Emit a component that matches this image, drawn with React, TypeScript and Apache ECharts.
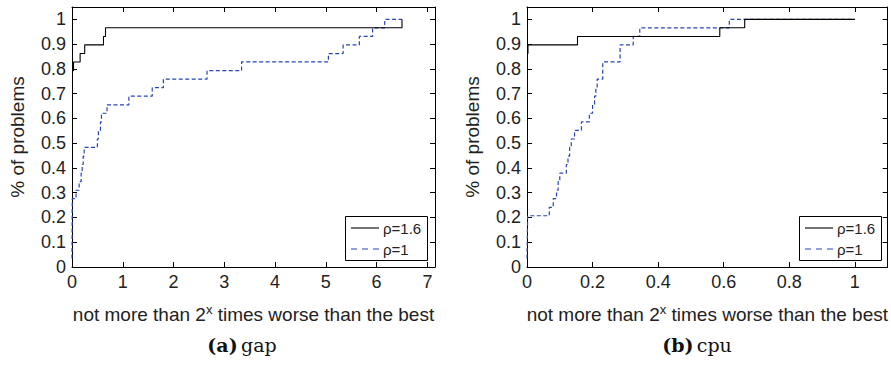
import React, { useEffect, useRef } from 'react';
import * as echarts from 'echarts';

// (a) gap — performance profile, step points (x = log2 ratio, y = fraction of problems)
const gapRho16X = [0, 0.03, 0.16, 0.25, 0.62, 0.66, 6.5];
const gapRho16Y = [0.793, 0.828, 0.862, 0.897, 0.931, 0.966, 1.0];
const gapRho1X = [0, 0.005, 0.08, 0.14, 0.18, 0.2, 0.22, 0.24, 0.5, 0.52, 0.56, 0.58, 0.69, 1.12, 1.58, 1.8, 2.66, 3.34, 5.05, 5.34, 5.66, 5.92, 6.16, 6.5];
const gapRho1Y = [0.034, 0.276, 0.31, 0.345, 0.379, 0.414, 0.448, 0.483, 0.517, 0.552, 0.586, 0.621, 0.655, 0.69, 0.724, 0.759, 0.793, 0.828, 0.862, 0.897, 0.931, 0.966, 1.0, 1.0];

// (b) cpu
const cpuRho16X = [0, 0.003, 0.154, 0.588, 0.664, 1.0];
const cpuRho16Y = [0.862, 0.897, 0.931, 0.966, 1.0, 1.0];
const cpuRho1X = [0, 0.002, 0.068, 0.08, 0.09, 0.095, 0.1, 0.12, 0.125, 0.13, 0.135, 0.145, 0.166, 0.19, 0.2, 0.206, 0.21, 0.214, 0.231, 0.284, 0.324, 0.344, 0.617, 1.0];
const cpuRho1Y = [0.034, 0.207, 0.241, 0.276, 0.31, 0.345, 0.379, 0.414, 0.448, 0.483, 0.517, 0.552, 0.586, 0.621, 0.655, 0.69, 0.724, 0.759, 0.828, 0.897, 0.931, 0.966, 1.0, 1.0];

const seriesNames = ['ρ=1.6', 'ρ=1'];
const captions = [['(a)', 'gap'], ['(b)', 'cpu']];
const xTitle = ['not more than 2', 'x', ' times worse than the best'];
const yTitle = '% of problems';

const zip = (xs: number[], ys: number[]) => xs.map((x, i) => [x, ys[i]]);

const FONT = '"Liberation Sans", Arial, Helvetica, sans-serif';
const SERIF = '"DejaVu Serif", "Liberation Serif", serif';
const BLUE = '#2a44b4';
const TXT = '#222';

export default function App() {
  const ref = useRef<HTMLDivElement>(null);
  useEffect(() => {
    if (!ref.current) return;
    const chart = echarts.init(ref.current, undefined, { renderer: 'svg' });

    const grids = [
      { left: 72, top: 7, width: 363, height: 260 },
      { left: 527, top: 7, width: 363, height: 260 },
    ];
    const xRanges = [
      { max: 7.15, interval: 1 },
      { max: 1.1, interval: 0.2 },
    ];

    const tickStyle = { show: true, inside: true, length: 5, lineStyle: { color: '#000', width: 1 } };
    const lineStyle = { show: true, onZero: false, lineStyle: { color: '#000', width: 1 } };

    const xAxes: any[] = [];
    const yAxes: any[] = [];
    grids.forEach((_, g) => {
      xAxes.push({
        type: 'value', gridIndex: g, position: 'bottom', min: 0, max: xRanges[g].max, interval: xRanges[g].interval,
        axisLine: lineStyle, axisTick: tickStyle, splitLine: { show: false },
        axisLabel: { show: true, showMaxLabel: false, color: TXT, fontSize: 18, fontFamily: FONT, margin: 6 },
        name: `{a|${xTitle[0]}}{s|${xTitle[1]}}{a|${xTitle[2]}}`,
        nameLocation: 'middle', nameGap: 36,
        nameTextStyle: {
          rich: {
            a: { fontSize: 19, fontFamily: FONT, color: TXT, lineHeight: 22 },
            s: { fontSize: 13, fontFamily: FONT, color: TXT, lineHeight: 13, verticalAlign: 'top' },
          },
        },
      });
      xAxes.push({
        type: 'value', gridIndex: g, position: 'top', min: 0, max: xRanges[g].max, interval: xRanges[g].interval,
        axisLine: lineStyle, axisTick: tickStyle, splitLine: { show: false }, axisLabel: { show: false },
      });
      yAxes.push({
        type: 'value', gridIndex: g, position: 'left', min: 0, max: 1.05, interval: 0.1,
        axisLine: lineStyle, axisTick: tickStyle, splitLine: { show: false },
        axisLabel: { show: true, showMaxLabel: false, color: TXT, fontSize: 18, fontFamily: FONT, margin: 6 },
        name: yTitle, nameLocation: 'middle', nameGap: 45, nameRotate: 90,
        nameTextStyle: { fontSize: 19, fontFamily: FONT, color: TXT },
      });
      yAxes.push({
        type: 'value', gridIndex: g, position: 'right', min: 0, max: 1.05, interval: 0.1,
        axisLine: lineStyle, axisTick: tickStyle, splitLine: { show: false }, axisLabel: { show: false },
      });
    });

    const solidStyle = { color: '#000', width: 1.1, type: 'solid' };
    const dashStyle = { color: BLUE, width: 1.2, type: [4, 2.5] };

    const mk = (name: string, g: number, data: number[][], dashed: boolean) => ({
      name, type: 'line', step: 'end', xAxisIndex: g * 2, yAxisIndex: g * 2, data,
      showSymbol: false, symbol: 'none', silent: true, z: dashed ? 3 : 4,
      lineStyle: dashed ? dashStyle : solidStyle,
      itemStyle: { color: dashed ? BLUE : '#000' },
    });

    const series = [
      mk(seriesNames[0], 0, zip(gapRho16X, gapRho16Y), false),
      mk(seriesNames[1], 0, zip(gapRho1X, gapRho1Y), true),
      mk(seriesNames[0], 1, zip(cpuRho16X, cpuRho16Y), false),
      mk(seriesNames[1], 1, zip(cpuRho1X, cpuRho1Y), true),
    ];

    const legendBox = (x: number) => ({
      type: 'group', x, y: 216, z: 100,
      children: [
        { type: 'rect', shape: { x: 0.5, y: 0.5, width: 82, height: 44 }, style: { fill: '#fff', stroke: '#000', lineWidth: 1 } },
        { type: 'line', shape: { x1: 6, y1: 12, x2: 34, y2: 12 }, style: { stroke: '#000', lineWidth: 1.1 } },
        { type: 'line', shape: { x1: 6, y1: 33, x2: 34, y2: 33 }, style: { stroke: BLUE, lineWidth: 1.2, lineDash: [6, 5] } },
        { type: 'text', x: 38, y: 12, style: { text: seriesNames[0], fontSize: 15, fontFamily: FONT, fill: TXT, verticalAlign: 'middle', align: 'left' } },
        { type: 'text', x: 38, y: 33, style: { text: seriesNames[1], fontSize: 15, fontFamily: FONT, fill: TXT, verticalAlign: 'middle', align: 'left' } },
      ],
    });

    const caption = (cx: number, c: string[]) => ({
      type: 'text', x: cx, y: 345,
      style: {
        text: `{b|${c[0]}} {n|${c[1]}}`, align: 'center', verticalAlign: 'middle',
        rich: {
          b: { fontFamily: SERIF, fontWeight: 'bold', fontSize: 19, fill: '#111' },
          n: { fontFamily: SERIF, fontSize: 19, fill: '#111' },
        },
      },
    });

    chart.setOption({
      animation: false,
      backgroundColor: '#fff',
      grid: grids,
      xAxis: xAxes,
      yAxis: yAxes,
      series,
      graphic: [legendBox(345), legendBox(799), caption(242, captions[0]), caption(697, captions[1])],
    });
    return () => chart.dispose();
  }, []);
  return <div ref={ref} style={{ position: 'absolute', left: 0, top: 0, width: 891, height: 368 }} />;
}
